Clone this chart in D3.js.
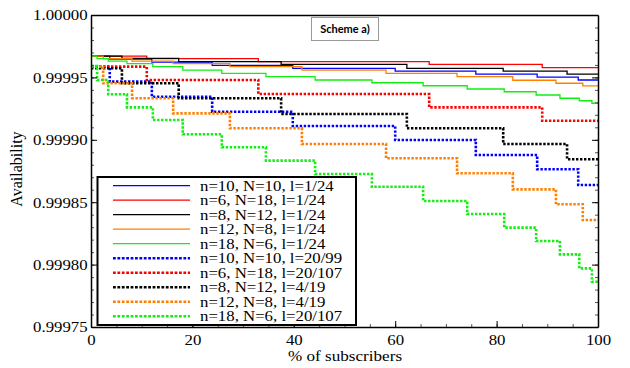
<!DOCTYPE html>
<html><head><meta charset="utf-8">
<script src="https://cdn.jsdelivr.net/npm/d3@7"></script>
<style>
body{margin:0;background:#fff;}
svg{display:block;}
</style>
</head><body>
<svg id="chart" width="630" height="368"></svg>
<script>
// ---- data ----
const xTicks = [0, 20, 40, 60, 80, 100];
const yTicks = [0.99975, 0.99980, 0.99985, 0.99990, 0.99995, 1.00000];

const labels = [
  "n=10, N=10, l=1/24", "n=6, N=18, l=1/24", "n=8, N=12, l=1/24",
  "n=12, N=8, l=1/24", "n=18, N=6, l=1/24",
  "n=10, N=10, l=20/99", "n=6, N=18, l=20/107", "n=8, N=12, l=4/19",
  "n=12, N=8, l=4/19", "n=18, N=6, l=20/107"
];

// step positions (% of subscribers) for each configuration
const stepsN10 = [0, 3.7, 12.0, 23.9, 39.8, 60.0, 75.9, 88.0, 96.1];
const stepsN6  = [0, 11.0, 33.0, 66.7, 89.0];
const stepsN8  = [0, 6.1, 17.3, 37.5, 62.3, 81.3, 93.9];
const stepsN12 = [0, 2.4, 8.1, 16.2, 27.4, 41.6, 58.2, 72.2, 83.2, 91.7, 97.0];
const stepsN18 = [0, 1.2, 3.4, 7.1, 12.2, 18.1, 25.8, 34.5, 44.2, 55.4, 65.5, 74.2, 81.5, 87.8, 92.5, 96.3, 98.8];

// availability levels, solid (l = 1/24)
const availN10a = [0.9999671, 0.9999646, 0.9999622, 0.9999597, 0.9999573, 0.9999551, 0.9999527, 0.9999503, 0.9999479];
const availN6a  = [0.9999671, 0.9999651, 0.9999627, 0.9999605, 0.9999578];
const availN8a  = [0.9999671, 0.9999653, 0.9999627, 0.9999605, 0.9999573, 0.9999550, 0.9999527];
const availN12a = [0.9999671, 0.9999651, 0.9999631, 0.9999611, 0.9999587, 0.9999559, 0.9999533, 0.9999506, 0.9999477, 0.9999453, 0.9999432];
const availN18a = [0.9999671, 0.9999651, 0.9999631, 0.9999611, 0.9999586, 0.9999559, 0.9999533, 0.9999506, 0.9999479, 0.9999457, 0.9999433, 0.9999407, 0.9999385, 0.9999359, 0.9999333, 0.9999313, 0.9999293];

// availability levels, dashed (higher l)
const availN10b = [0.9999586, 0.9999466, 0.9999345, 0.9999225, 0.9999111, 0.9998998, 0.9998878, 0.9998764, 0.9998638];
const availN6b  = [0.9999586, 0.9999479, 0.9999367, 0.9999260, 0.9999153];
const availN8b  = [0.9999573, 0.9999453, 0.9999333, 0.9999207, 0.9999092, 0.9998966, 0.9998844];
const availN12b = [0.9999586, 0.9999453, 0.9999333, 0.9999212, 0.9999092, 0.9998966, 0.9998852, 0.9998732, 0.9998603, 0.9998483, 0.9998357];
const availN18b = [0.9999591, 0.9999479, 0.9999365, 0.9999260, 0.9999159, 0.9999044, 0.9998940, 0.9998833, 0.9998726, 0.9998624, 0.9998510, 0.9998405, 0.9998296, 0.9998189, 0.9998082, 0.9997970, 0.9997863];

const colors = ["#0000ff", "#ff0000", "#000000", "#ff8000", "#11ee11"];

const seriesSteps = [stepsN10, stepsN6, stepsN8, stepsN12, stepsN18, stepsN10, stepsN6, stepsN8, stepsN12, stepsN18];
const seriesAvail = [availN10a, availN6a, availN8a, availN12a, availN18a, availN10b, availN6b, availN8b, availN12b, availN18b];

// ---- drawing ----
const svg = d3.select("#chart");
const L = 91, R = 598, T = 15, B = 327;
const x = d3.scaleLinear().domain([0, 100]).range([L, R]);
const y = d3.scaleLinear().domain([0.99975, 1.0]).range([B, T]);
const SX = 1.12; // horizontal stretch of the reference text
const serif = "Liberation Serif";

const line = d3.line().x(d => x(d[0])).y(d => y(d[1])).curve(d3.curveStepAfter);

const plot = svg.append("g");
seriesSteps.forEach((steps, i) => {
  const av = seriesAvail[i];
  const pts = steps.map((s, k) => [s, av[k]]);
  pts.push([100, av[av.length - 1]]);
  const dashed = i >= 5;
  plot.append("path")
    .attr("d", line(pts))
    .attr("fill", "none")
    .attr("stroke", colors[i % 5])
    .attr("stroke-width", dashed ? 2.6 : 1.3)
    .attr("stroke-dasharray", dashed ? "2.4,1.6" : null);
});

function styleAxis(g) {
  g.select(".domain").attr("stroke", "#000").attr("stroke-width", 1.5);
  g.selectAll(".tick line").attr("stroke", "#000").attr("stroke-width", 1);
}

// minor ticks
const yMinor = d3.range(0, 26).map(k => 0.99975 + k * 0.00001);
const xMinor = d3.range(0, 21).map(k => k * 5);
svg.append("g").attr("transform", `translate(${L},0)`)
  .call(d3.axisLeft(y).tickValues(yMinor).tickSize(-3).tickFormat(""))
  .call(g => { g.select(".domain").remove(); g.selectAll("line").attr("stroke", "#555"); });
svg.append("g").attr("transform", `translate(${R},0)`)
  .call(d3.axisRight(y).tickValues(yMinor).tickSize(-3).tickFormat(""))
  .call(g => { g.select(".domain").remove(); g.selectAll("line").attr("stroke", "#555"); });
svg.append("g").attr("transform", `translate(0,${B})`)
  .call(d3.axisBottom(x).tickValues(xMinor).tickSize(-3).tickFormat(""))
  .call(g => { g.select(".domain").remove(); g.selectAll("line").attr("stroke", "#555"); });

const yAxis = svg.append("g").attr("transform", `translate(${L},0)`)
  .call(d3.axisLeft(y).tickValues(yTicks).tickSize(-6).tickSizeOuter(0).tickPadding(3).tickFormat(d3.format(".5f")))
  .call(styleAxis);
yAxis.selectAll("text").attr("font-family", serif).attr("font-size", 15).attr("fill", "#000")
  .attr("transform", `scale(${SX},1)`);

svg.append("g").attr("transform", `translate(${R},0)`)
  .call(d3.axisRight(y).tickValues(yTicks).tickSize(-6).tickSizeOuter(0).tickFormat(""))
  .call(styleAxis);

const xAxis = svg.append("g").attr("transform", `translate(0,${B})`)
  .call(d3.axisBottom(x).tickValues(xTicks).tickSize(-6).tickSizeOuter(0).tickPadding(7))
  .call(styleAxis);
xAxis.selectAll("text").attr("font-family", serif).attr("font-size", 15).attr("fill", "#000")
  .attr("transform", `scale(${SX},1)`);

svg.append("g").attr("transform", `translate(0,${T})`)
  .call(d3.axisTop(x).tickValues([]).tickSizeOuter(0))
  .call(styleAxis);

// axis titles
svg.append("text")
  .attr("transform", `translate(16,169) rotate(-90)`)
  .attr("text-anchor", "middle").attr("dominant-baseline", "central")
  .attr("font-family", serif).attr("font-size", 16).text("Availability");
svg.append("text")
  .attr("transform", `translate(345,361) scale(${SX},1)`)
  .attr("text-anchor", "middle")
  .attr("font-family", serif).attr("font-size", 15.3).text("% of subscribers");

// title box
const tb = svg.append("g").attr("transform", "translate(311.5,17.5)");
tb.append("rect").attr("width", 67).attr("height", 23)
  .attr("fill", "#fff").attr("stroke", "#999").attr("stroke-width", 1);
tb.append("text").attr("x", 33.5).attr("y", 15.5).attr("text-anchor", "middle")
  .attr("font-family", "Lato").attr("font-weight", "bold")
  .attr("font-size", 11).text("Scheme a)");

// legend
const lg = svg.append("g");
lg.append("rect").attr("x", 97.5).attr("y", 177).attr("width", 258.5).attr("height", 148)
  .attr("fill", "#fff").attr("stroke", "#000").attr("stroke-width", 2);
labels.forEach((lab, i) => {
  const cy = 185.7 + i * 14.5;
  const dashed = i >= 5;
  lg.append("line").attr("x1", 113).attr("x2", 190).attr("y1", cy).attr("y2", cy)
    .attr("stroke", colors[i % 5]).attr("stroke-width", dashed ? 2.6 : 1.3)
    .attr("stroke-dasharray", dashed ? "2.8,1.6" : null);
  lg.append("text").attr("transform", `translate(200,${cy + 5}) scale(${SX},1)`)
    .attr("font-family", serif).attr("font-size", 15).text(lab);
});
</script>
</body></html>
